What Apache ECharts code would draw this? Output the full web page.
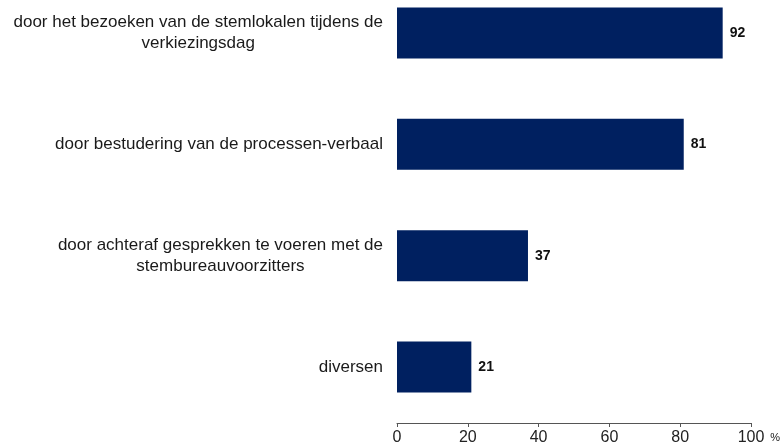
<!DOCTYPE html>
<html>
<head>
<meta charset="utf-8">
<script src="https://cdn.jsdelivr.net/npm/echarts@6/dist/echarts.min.js"></script>
<style>
  html, body { margin: 0; padding: 0; background: #fff; }
  #chart { width: 782px; height: 446px; }
</style>
</head>
<body>
<div id="chart"></div>
<script>
// categories top to bottom
const categories = [
    'door het bezoeken van de stemlokalen tijdens de\nverkiezingsdag',
    'door bestudering van de processen-verbaal',
    'door achteraf gesprekken te voeren met de\nstembureauvoorzitters',
    'diversen'
];
const values = [92, 81, 37, 21];
const xTicks = [0, 20, 40, 60, 80, 100];

let myChart = echarts.init(document.getElementById('chart'));

let option = {
    backgroundColor: '#fff',
    animation: false,
    // grid spans from first to last bar centre, x axis is pushed down with offset
    grid: {
        top: 33,
        left: 397,
        right: 31,
        bottom: 79,
        outerBoundsMode: 'none'
    },
    xAxis: {
        type: 'value',
        min: xTicks[0],
        max: xTicks[xTicks.length - 1],
        interval: 20,
        offset: 56,
        name: '%',
        nameLocation: 'end',
        nameGap: 19,
        nameTextStyle: {
            fontFamily: 'Liberation Sans',
            fontSize: 11,
            color: '#222',
            verticalAlign: 'top',
            padding: [9, 0, 0, 0]
        },
        axisLine: { show: true, lineStyle: { color: '#555', width: 1 } },
        axisTick: { show: true, length: 4, lineStyle: { color: '#555' } },
        splitLine: { show: false },
        axisLabel: {
            margin: 7,
            fontFamily: 'Liberation Sans',
            fontSize: 16,
            color: '#222'
        }
    },
    yAxis: {
        type: 'category',
        inverse: true,
        boundaryGap: false,
        data: categories,
        axisLine: { show: false },
        axisTick: { show: false },
        axisLabel: {
            margin: 14,
            align: 'right',
            formatter: function (v) {
                // center each line inside the label block
                return v.split('\n').map(s => '{c|' + s + '}').join('\n');
            },
            rich: {
                c: {
                    align: 'center',
                    fontFamily: 'Liberation Sans',
                    fontSize: 17,
                    lineHeight: 21,
                    color: '#1a1a1a'
                }
            }
        }
    },
    series: [
        {
            type: 'bar',
            data: values,
            barWidth: 51,
            itemStyle: { color: '#002060' },
            label: {
                show: true,
                position: 'right',
                distance: 7,
                fontFamily: 'Liberation Sans',
                fontSize: 14,
                fontWeight: 'bold',
                color: '#111'
            }
        }
    ]
};

option && myChart.setOption(option);
</script>
</body>
</html>
